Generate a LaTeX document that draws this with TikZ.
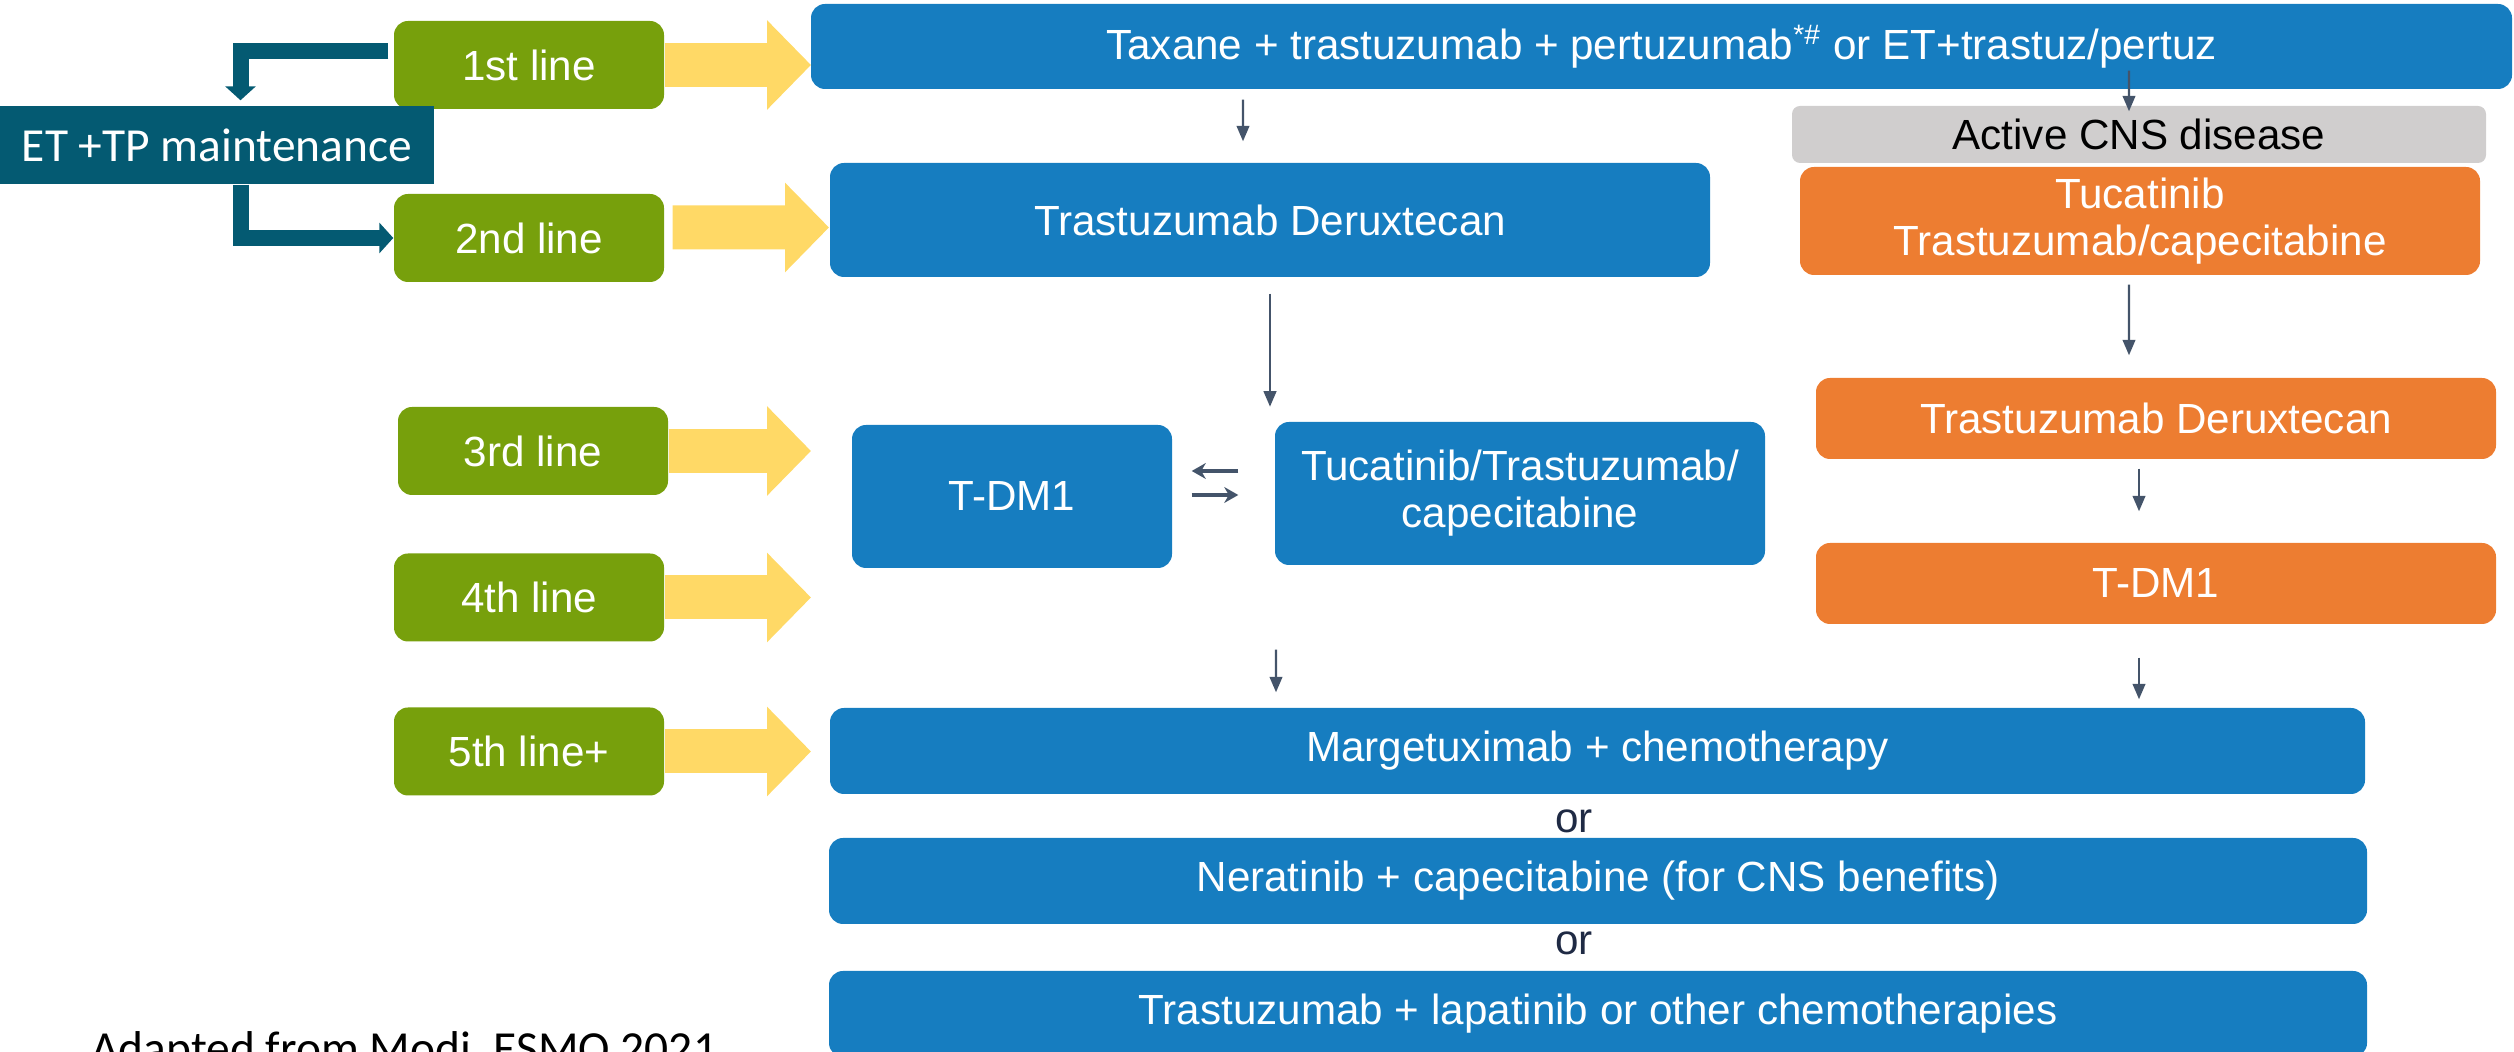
\documentclass[tikz,border=0pt]{standalone}
\usepackage{fontspec}
\setmainfont{Liberation Sans}
\newfontfamily\carlito{Carlito}
\usetikzlibrary{arrows.meta,calc,positioning}

\definecolor{txblue}{RGB}{22,125,192}
\definecolor{linegreen}{RGB}{119,160,12}
\definecolor{laneyellow}{RGB}{255,217,102}
\definecolor{etteal}{RGB}{4,90,114}
\definecolor{cnsorange}{RGB}{237,125,49}
\definecolor{cnsgray}{RGB}{208,206,206}
\definecolor{flowslate}{RGB}{68,84,106}
\definecolor{ornavy}{RGB}{31,42,68}

\begin{document}
\begin{tikzpicture}[
  font=\fontsize{12}{13.4}\selectfont,
  box/.style={rounded corners=0.14cm, text=white, inner sep=0pt, align=center},
  linebox/.style={box, fill=linegreen, minimum width=2.70cm, minimum height=0.88cm},
  txbox/.style={box, fill=txblue},
  cnsbox/.style={box, fill=cnsorange},
  lane/.style={draw=laneyellow, line width=0.44cm, -{Triangle[length=0.44cm,width=0.87cm]}},
  elbow/.style={draw=etteal, line width=0.16cm, -{Triangle[length=0.14cm,width=0.30cm]}},
  flow/.style={draw=flowslate, line width=0.6pt, -{Triangle[length=4.4pt,width=3.6pt]}},
  swap/.style={draw=flowslate, line width=1pt, -{Stealth[length=4pt,width=4.5pt]}},
]
\useasboundingbox (0,0) rectangle (25.14,-10.52);

% line of therapy
\node[linebox] (l1) at (5.29,-0.65) {1st line};
\node[linebox] (l2) at (5.29,-2.38) {2nd line};
\node[linebox] (l3) at (5.33,-4.51) {3rd line};
\node[linebox] (l4) at (5.29,-5.975) {4th line};
\node[linebox] (l5) at (5.29,-7.515) {5th line+};
\node[fill=etteal, text=white, inner sep=0pt, minimum width=4.34cm, minimum height=0.78cm,
  font=\carlito\fontsize{13.5}{15}\selectfont] (et) at (2.17,-1.45) {ET +TP maintenance};

% regimens
\node[txbox, minimum width=17.01cm, minimum height=0.85cm] (first) at (16.615,-0.465)
  {Taxane + trastuzumab + pertuzumab\textsuperscript{*\#} or ET+trastuz/pertuz};
\node[txbox, minimum width=8.80cm, minimum height=1.14cm] (tdx) at (12.70,-2.20) {Trastuzumab Deruxtecan};
\node[box, fill=cnsgray, text=black, rounded corners=0.08cm, minimum width=6.94cm, minimum height=0.57cm]
  (cns) at (21.39,-1.345) {Active CNS disease};
\node[cnsbox, minimum width=6.80cm, minimum height=1.08cm] (tuc) at (21.40,-2.21) {Tucatinib\\Trastuzumab/capecitabine};
\node[txbox, minimum width=3.20cm, minimum height=1.43cm] (tdm) at (10.12,-4.965) {T-DM1};
\node[txbox, minimum width=4.90cm, minimum height=1.43cm] (tts) at (15.20,-4.935) {Tucatinib/Trastuzumab/\\capecitabine};
\node[cnsbox, minimum width=6.80cm, minimum height=0.81cm] (odx) at (21.56,-4.185) {Trastuzumab Deruxtecan};
\node[cnsbox, minimum width=6.80cm, minimum height=0.81cm] (otdm) at (21.56,-5.835) {T-DM1};
\node[txbox, minimum width=15.35cm, minimum height=0.86cm] (marg) at (15.975,-7.51) {Margetuximab + chemotherapy};
\node[text=ornavy] (or1) at (15.74,-8.21) {or};
\node[txbox, minimum width=15.38cm, minimum height=0.86cm] (ner) at (15.98,-8.81) {Neratinib + capecitabine (for CNS benefits)};
\node[text=ornavy] (or2) at (15.74,-9.43) {or};
\node[txbox, minimum width=15.38cm, minimum height=0.86cm] (lap) at (15.98,-10.14) {Trastuzumab + lapatinib or other chemotherapies};

\node[anchor=base west, font=\carlito\fontsize{13.5}{15}\selectfont] (src) at (0.79,-10.65) {Adapted from Modi, ESMO 2021};

% yellow lane arrows
\coordinate (tip1) at (8.11,-0.65);
\coordinate (tip2) at (8.29,-2.275);
\coordinate (tip3) at (8.11,-4.51);
\coordinate (tip4) at (8.11,-5.975);
\coordinate (tip5) at (8.11,-7.515);
\draw[lane] (l1.east) -- (tip1);
\draw[lane] ($(l2.east)+(0.08,0.105)$) -- (tip2);
\draw[lane] (l3.east) -- (tip3);
\draw[lane] (l4.east) -- (tip4);
\draw[lane] (l5.east) -- (tip5);

% maintenance loop
\draw[elbow] ($(l1.west)+(-0.05,0.14)$) -| ($(et.north)+(0.235,0.05)$);
\draw[elbow] ($(et.south)+(0.24,0)$) |- (l2.west);

% sequence arrows
\draw[flow] ($(first.south)+(-4.185,-0.10)$) -- ($(tdx.north)+(-0.27,0.21)$);
\draw[flow] ($(first.south)+(4.675,0.19)$) -- ($(cns.north)+(-0.10,-0.06)$);
\draw[flow] ($(tuc.south)+(-0.11,-0.09)$) -- ($(odx.north)+(-0.27,0.22)$);
\draw[flow] ($(tdx.south)+(0,-0.16)$) -- ($(tdx.south)+(0,-1.29)$);
\draw[flow] ($(odx.south)+(-0.17,-0.09)$) -- ($(otdm.north)+(-0.17,0.31)$);
\draw[flow] ($(tts.south)+(-2.44,-0.84)$) -- ($(marg.north)+(-3.215,0.15)$);
\draw[flow] ($(otdm.south)+(-0.17,-0.33)$) -- ($(marg.north)+(5.415,0.08)$);
\draw[swap] ($(tts.west)+(-0.36,0.225)$) -- ($(tdm.east)+(0.19,0.255)$);
\draw[swap] ($(tdm.east)+(0.19,0.015)$) -- ($(tts.west)+(-0.36,-0.015)$);
\end{tikzpicture}
\end{document}
